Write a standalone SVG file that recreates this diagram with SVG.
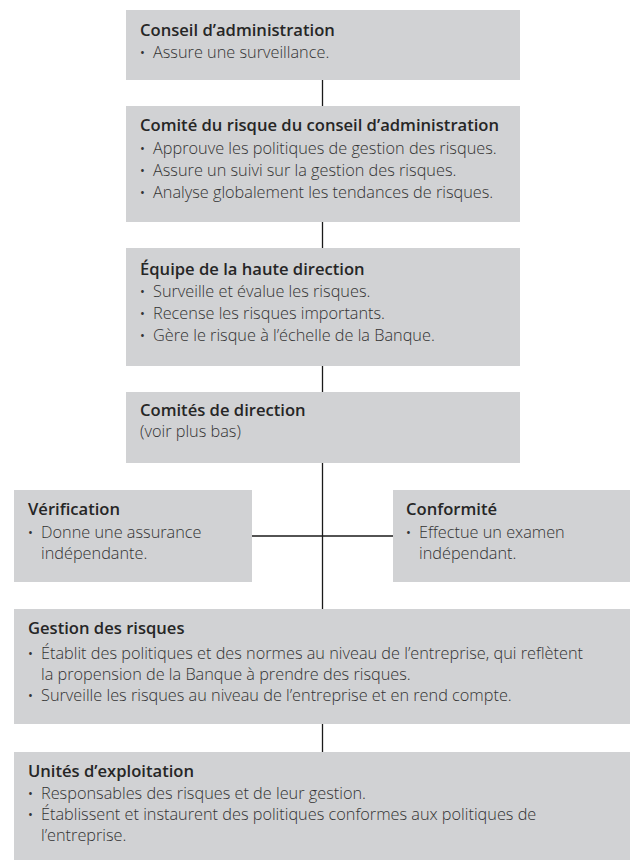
<svg xmlns="http://www.w3.org/2000/svg" width="632" height="863" viewBox="0 0 632 863">
<style>
.box{fill:#d1d2d4}
.t{font-family:"Open Sans","Liberation Sans",sans-serif;font-size:16.6px;font-weight:600;fill:#262626}
.b{font-family:"Open Sans","Liberation Sans",sans-serif;font-size:16.3px;font-weight:300;fill:#333333}
.d{font-family:"Open Sans","Liberation Sans",sans-serif;font-size:13px;fill:#333333}
.c{stroke:#1a1a1a;stroke-width:1.3;fill:none}
</style>
<rect width="632" height="863" fill="#ffffff"/>
<g id="connectors">
<line class="c" x1="322.5" y1="80" x2="322.5" y2="106"/>
<line class="c" x1="322.5" y1="222" x2="322.5" y2="248"/>
<line class="c" x1="322.5" y1="366" x2="322.5" y2="392"/>
<line class="c" x1="322.5" y1="463" x2="322.5" y2="609"/>
<line class="c" x1="252" y1="536" x2="393" y2="536"/>
<line class="c" x1="322.5" y1="724" x2="322.5" y2="752"/>
</g>
<g id="conseil">
<rect class="box" x="126" y="10" width="394" height="70"/>
<text class="t" x="140" y="36">Conseil d’administration</text>
<text class="d" x="140" y="57">•</text><text class="b" x="153" y="58">Assure une surveillance.</text>
</g>
<g id="comite-risque">
<rect class="box" x="126" y="106" width="394" height="116"/>
<text class="t" x="140" y="131">Comité du risque du conseil d’administration</text>
<text class="d" x="140" y="153">•</text><text class="b" x="153" y="154">Approuve les politiques de gestion des risques.</text>
<text class="d" x="140" y="175">•</text><text class="b" x="153" y="176">Assure un suivi sur la gestion des risques.</text>
<text class="d" x="140" y="197">•</text><text class="b" x="153" y="198">Analyse globalement les tendances de risques.</text>
</g>
<g id="haute-direction">
<rect class="box" x="126" y="248" width="394" height="118"/>
<text class="t" x="140" y="275">Équipe de la haute direction</text>
<text class="d" x="140" y="296">•</text><text class="b" x="153" y="297">Surveille et évalue les risques.</text>
<text class="d" x="140" y="318">•</text><text class="b" x="153" y="319">Recense les risques importants.</text>
<text class="d" x="140" y="340">•</text><text class="b" x="153" y="341">Gère le risque à l’échelle de la Banque.</text>
</g>
<g id="comites-direction">
<rect class="box" x="126" y="392" width="394" height="71"/>
<text class="t" x="140" y="416">Comités de direction</text>
<text class="b" x="140" y="437">(voir plus bas)</text>
</g>
<g id="verification">
<rect class="box" x="14" y="490" width="238" height="92"/>
<text class="t" x="28" y="515">Vérification</text>
<text class="d" x="28" y="537">•</text><text class="b" x="41" y="538">Donne une assurance</text>
<text class="b" x="41" y="559">indépendante.</text>
</g>
<g id="conformite">
<rect class="box" x="393" y="490" width="237" height="92"/>
<text class="t" x="406" y="515">Conformité</text>
<text class="d" x="406" y="537">•</text><text class="b" x="419" y="538">Effectue un examen</text>
<text class="b" x="419" y="559">indépendant.</text>
</g>
<g id="gestion-risques">
<rect class="box" x="14" y="609" width="616" height="115"/>
<text class="t" x="28" y="634">Gestion des risques</text>
<text class="d" x="28" y="658">•</text><text class="b" x="41" y="659">Établit des politiques et des normes au niveau de l’entreprise, qui reflètent</text>
<text class="b" x="41" y="680">la propension de la Banque à prendre des risques.</text>
<text class="d" x="28" y="700">•</text><text class="b" x="41" y="701">Surveille les risques au niveau de l’entreprise et en rend compte.</text>
</g>
<g id="unites-exploitation">
<rect class="box" x="14" y="752" width="616" height="108"/>
<text class="t" x="28" y="777">Unités d’exploitation</text>
<text class="d" x="28" y="798">•</text><text class="b" x="41" y="799">Responsables des risques et de leur gestion.</text>
<text class="d" x="28" y="819">•</text><text class="b" x="41" y="820">Établissent et instaurent des politiques conformes aux politiques de</text>
<text class="b" x="41" y="841">l’entreprise.</text>
</g>
</svg>
